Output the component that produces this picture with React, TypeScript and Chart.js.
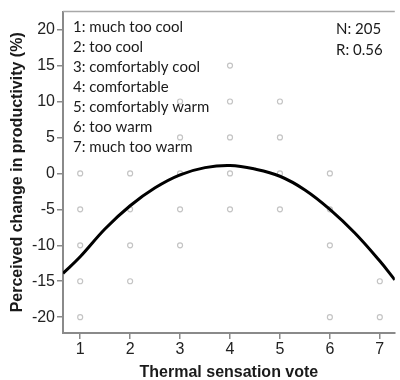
import React, { useEffect, useRef } from "react";
import { Chart, registerables } from "chart.js";

Chart.register(...registerables);

const scatterX = [1, 1, 1, 1, 1, 2, 2, 2, 2, 3, 3, 3, 3, 3, 4, 4, 4, 4, 4, 5, 5, 5, 5, 6, 6, 6, 6, 7, 7];
const scatterY = [0, -5, -10, -15, -20, 0, -5, -10, -15, 10, 5, 0, -5, -10, 15, 10, 5, 0, -5, 10, 5, 0, -5, 0, -5, -10, -20, -15, -20];

const curveX = [0.656, 1, 1.5, 2, 2.5, 3, 3.5, 4, 4.5, 5, 5.5, 6, 6.5, 7, 7.3];
const curveY = [-13.9, -11.6, -7.7, -4.5, -2.0, -0.2, 0.8, 1.1, 0.6, -0.4, -2.3, -5.0, -8.3, -12.2, -14.8];

const xTicks = [1, 2, 3, 4, 5, 6, 7];
const yTicks = [-20, -15, -10, -5, 0, 5, 10, 15, 20];

const legendLines = [
  "1: much too cool",
  "2: too cool",
  "3: comfortably cool",
  "4: comfortable",
  "5: comfortably warm",
  "6: too warm",
  "7: much too warm",
];
const statLines = ["N: 205", "R: 0.56"];

export default function App() {
  const ref = useRef<HTMLCanvasElement | null>(null);

  useEffect(() => {
    if (!ref.current) return;
    const textPlugin = {
      id: "textOverlay",
      afterDraw(chart: any) {
        const { ctx, chartArea } = chart;
        ctx.save();
        ctx.strokeStyle = "#a8a8a8";
        ctx.lineWidth = 1.5;
        ctx.beginPath();
        ctx.moveTo(chartArea.left, chartArea.top);
        ctx.lineTo(chartArea.right, chartArea.top);
        ctx.stroke();
        ctx.fillStyle = "#1a1a1a";
        ctx.font = "15px Lato";
        ctx.textBaseline = "middle";
        ctx.textAlign = "left";
        legendLines.forEach((t, i) => {
          ctx.fillText(t, chartArea.left + 10, chartArea.top + 16 + i * 20);
        });
        statLines.forEach((t, i) => {
          ctx.fillText(t, chartArea.left + 273, chartArea.top + 18 + i * 21);
        });
        ctx.restore();
      },
    };

    const chart = new Chart(ref.current, {
      type: "scatter",
      data: {
        datasets: [
          {
            type: "line",
            data: curveX.map((x, i) => ({ x, y: curveY[i] })),
            borderColor: "#000",
            borderWidth: 3,
            pointRadius: 0,
            tension: 0.4,
            fill: false,
            clip: 0,
          } as any,
          {
            type: "scatter",
            data: scatterX.map((x, i) => ({ x, y: scatterY[i] })),
            borderColor: "#c4c4c4",
            backgroundColor: "rgba(255,255,255,0)",
            borderWidth: 1.2,
            pointRadius: 2.5,
          },
        ],
      },
      options: {
        responsive: false,
        animation: false,
        layout: { padding: { top: 11, left: 0, right: 0, bottom: 0 } },
        plugins: { legend: { display: false }, tooltip: { enabled: false } },
        scales: {
          x: {
            type: "linear",
            min: 0.656,
            max: 7.3,
            afterBuildTicks: (s: any) => {
              s.ticks = xTicks.map((v) => ({ value: v }));
            },
            afterFit: (s: any) => {
              s.height = 47;
            },
            grid: {
              drawOnChartArea: false,
              drawTicks: true,
              tickLength: 6,
              color: "#8a8a8a",
              lineWidth: 1.5,
            },
            border: { display: true, color: "#8a8a8a", width: 2 },
            ticks: {
              color: "#222",
              font: { family: "Liberation Sans", size: 16 },
              padding: 1,
              maxRotation: 0,
            },
            title: {
              display: true,
              text: "Thermal sensation vote",
              color: "#1a1a1a",
              font: { family: "Liberation Sans", size: 16, weight: "bold", lineHeight: 0.875 },
              padding: { top: 0, bottom: 0 },
            },
          },
          y: {
            type: "linear",
            min: -22.2,
            max: 22.5,
            afterBuildTicks: (s: any) => {
              s.ticks = yTicks.map((v) => ({ value: v }));
            },
            afterFit: (s: any) => {
              s.width = 63;
            },
            grid: {
              drawOnChartArea: false,
              drawTicks: true,
              tickLength: 6,
              color: "#8a8a8a",
              lineWidth: 1.5,
            },
            border: { display: true, color: "#8a8a8a", width: 2 },
            ticks: {
              color: "#222",
              font: { family: "Liberation Sans", size: 16 },
              padding: 2,
            },
            title: {
              display: true,
              text: "Perceived change in productivity (%)",
              color: "#1a1a1a",
              font: { family: "Liberation Sans", size: 16, weight: "bold" },
              padding: { top: 8, bottom: 0 },
            },
          },
        },
      },
      plugins: [textPlugin],
    });
    return () => chart.destroy();
  }, []);

  return (
    <div style={{ position: "absolute", left: 0, top: 0, width: 400, height: 380, background: "#fff" }}>
      <canvas ref={ref} width={400} height={380} style={{ width: 400, height: 380, display: "block" }} />
    </div>
  );
}
